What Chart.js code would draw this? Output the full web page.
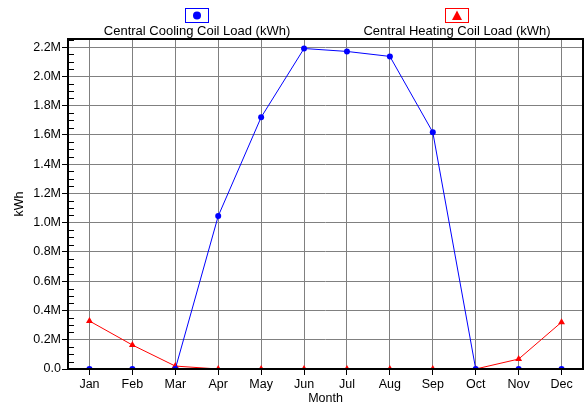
<!DOCTYPE html>
<html>
<head>
<meta charset="utf-8">
<script src="https://cdn.jsdelivr.net/npm/chart.js@4.4.0/dist/chart.umd.min.js"></script>
<style>
  body { margin: 0; background: #fff; }
  #wrap { width: 587px; height: 406px; }
</style>
</head>
<body>
<div id="wrap"><canvas id="lineChart" width="587" height="406"></canvas></div>
<script>
var months = ["Jan", "Feb", "Mar", "Apr", "May", "Jun", "Jul", "Aug", "Sep", "Oct", "Nov", "Dec"];
var cooling = [0, 0, 0, 1045000, 1720000, 2190000, 2170000, 2136000, 1618000, 0, 0, 0];
var heating = [328000, 164000, 20000, 0, 0, 0, 0, 0, 0, 0, 68000, 320000];
var seriesNames = ["Central Cooling Coil Load (kWh)", "Central Heating Coil Load (kWh)"];
var yTicks = [0, 200000, 400000, 600000, 800000, 1000000, 1200000, 1400000, 1600000, 1800000, 2000000, 2200000];
var yMax = 2255000;
var yMinorStep = 50000;

var FONT = "'Liberation Sans', Arial, sans-serif";

// box frame + minor ticks + legend with marker above the text
var extras = {
  id: 'extras',
  afterDraw: function(chart) {
    var ctx = chart.ctx;
    var a = chart.chartArea;
    var y = chart.scales.y;
    ctx.save();
    ctx.strokeStyle = '#000';
    ctx.lineWidth = 1;
    for (var v = yMinorStep; v <= yMax; v += yMinorStep) {
      if (yTicks.indexOf(v) >= 0) continue;
      var py = Math.round(y.getPixelForValue(v)) + 0.5;
      ctx.beginPath();
      ctx.moveTo(a.left, py);
      ctx.lineTo(a.left + 6, py);
      ctx.stroke();
    }
    ctx.lineWidth = 2;
    ctx.strokeRect(a.left, a.top, a.right - a.left, a.bottom - a.top);

    // legend
    var items = [
      { x: 197, color: '#0000ff', style: 'circle' },
      { x: 457, color: '#ff0000', style: 'triangle' }
    ];
    ctx.font = '13px ' + FONT;
    ctx.textAlign = 'center';
    ctx.textBaseline = 'alphabetic';
    items.forEach(function(it, i) {
      ctx.lineWidth = 1;
      ctx.strokeStyle = it.color;
      ctx.strokeRect(it.x - 11.5, 8.5, 23, 14);
      ctx.fillStyle = it.color;
      ctx.beginPath();
      if (it.style === 'circle') {
        ctx.arc(it.x, 15.5, 4, 0, Math.PI * 2);
      } else {
        ctx.moveTo(it.x, 10.5);
        ctx.lineTo(it.x + 5, 20);
        ctx.lineTo(it.x - 5, 20);
        ctx.closePath();
      }
      ctx.fill();
      ctx.fillStyle = '#000';
      ctx.fillText(seriesNames[i], it.x, 35);
    });
    ctx.restore();
  }
};

var ctxL = document.getElementById("lineChart").getContext("2d");
var myLineChart = new Chart(ctxL, {
  type: 'line',
  data: {
    labels: months,
    datasets: [{
      label: seriesNames[0],
      data: cooling,
      borderColor: '#0000ff',
      backgroundColor: '#0000ff',
      borderWidth: 1,
      pointStyle: 'circle',
      pointRadius: 3,
      pointBorderWidth: 0,
      tension: 0
    }, {
      label: seriesNames[1],
      data: heating,
      borderColor: '#ff0000',
      backgroundColor: '#ff0000',
      borderWidth: 1,
      pointStyle: 'triangle',
      pointRadius: 4,
      pointBorderWidth: 0,
      tension: 0
    }]
  },
  options: {
    responsive: false,
    animation: false,
    layout: { padding: { top: 39, right: 2, left: 0, bottom: 0 } },
    plugins: {
      legend: { display: false },
      tooltip: { enabled: false }
    },
    scales: {
      x: {
        offset: true,
        grid: { offset: false, color: '#808080', tickColor: '#000', tickLength: 6, lineWidth: 1 },
        border: { display: false },
        ticks: { color: '#000', font: { family: FONT, size: 12.5 }, padding: 2, maxRotation: 0 },
        title: { display: true, text: 'Month', color: '#000', font: { family: FONT, size: 12.5 }, padding: { top: 0, bottom: 0 } },
        afterFit: function(s) { s.height = 37; }
      },
      y: {
        min: 0,
        max: yMax,
        grid: { color: '#808080', tickColor: '#000', tickLength: 6, lineWidth: 1 },
        border: { display: false },
        afterBuildTicks: function(s) {
          s.ticks = yTicks.map(function(v) { return { value: v }; });
        },
        ticks: {
          color: '#000',
          font: { family: FONT, size: 12.5 },
          padding: 1,
          autoSkip: false,
          callback: function(v) { return v === 0 ? '0.0' : (v / 1e6).toFixed(1) + 'M'; }
        },
        title: { display: true, text: 'kWh', color: '#000', font: { family: FONT, size: 12.5 }, padding: { top: 12, bottom: 0 } },
        afterFit: function(s) { s.width = 68; }
      }
    }
  },
  plugins: [extras]
});
</script>
</body>
</html>
